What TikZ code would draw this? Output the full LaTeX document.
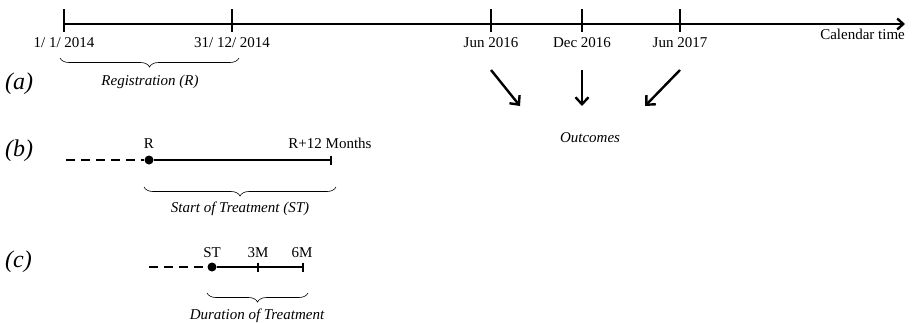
\documentclass[tikz,border=0pt]{standalone}
\usepackage{fontspec}
\setmainfont{Liberation Serif}
\usetikzlibrary{arrows.meta,decorations.pathreplacing,positioning}

\tikzset{
  axisline/.style  = {line width=2.4pt},
  tickmark/.style  = {line width=2.4pt},
  period/.style    = {line width=2.5pt},
  pastline/.style  = {line width=2.5pt, dash pattern=on 9pt off 6pt},
  datelabel/.style = {anchor=base, inner sep=0pt,
                      font=\fontsize{15}{17}\selectfont},
  itlabel/.style   = {datelabel, font=\fontsize{15}{17}\selectfont\itshape},
  panel/.style     = {anchor=base west, inner sep=0pt,
                      font=\fontsize{24}{27}\selectfont\itshape},
  curly/.style     = {decorate, decoration={brace, mirror, amplitude=9pt},
                      line width=0.6pt},
  outarrow/.style  = {line width=2.4pt, -{Straight Barb[length=7pt,width=13pt]}},
  startdot/.style  = {circle, fill, inner sep=0pt, minimum size=9pt}
}

\begin{document}
\begin{tikzpicture}[x=1pt, y=-1pt]
\useasboundingbox (0,0) rectangle (912,322);

% (a) calendar time
\coordinate (a0) at (64,24);
\coordinate (aEnd) at (905,24);
\draw[axisline, -{Straight Barb[length=6pt,width=11pt]}] (a0) -- (aEnd);
\foreach \x in {64,232,491,582,680}
  \draw[tickmark] (\x,9) -- (\x,32);

\node[datelabel] (d1) at (64,47) {1/ 1/ 2014};
\node[datelabel] (d2) at (232,47) {31/ 12/ 2014};
\node[datelabel] (d3) at (491,47) {Jun 2016};
\node[datelabel] (d4) at (582,47) {Dec 2016};
\node[datelabel] (d5) at (680,47) {Jun 2017};
\node[datelabel, anchor=base east] (cal) at (905,39) {Calendar time};

\draw[curly] (60,58) -- (239,58);
\node[itlabel] (reg) at (150,85) {Registration (R)};
\node[panel] (pa) at (5,89) {(a)};

\coordinate (o1s) at (491,70);
\coordinate (o1e) at (520,106);
\coordinate (o2s) at (582,70);
\coordinate (o2e) at (582,106);
\coordinate (o3s) at (680,70);
\coordinate (o3e) at (645,106);
\draw[outarrow] (o1s) -- (o1e);
\draw[outarrow] (o2s) -- (o2e);
\draw[outarrow] (o3s) -- (o3e);
\node[itlabel] (outc) at (590,142) {Outcomes};

% (b) start of treatment
\node[panel] (pb) at (5,156) {(b)};
\coordinate (bL) at (66,160);
\node[startdot] (R) at (149,160) {};
\coordinate (bE) at (331,160);
\draw[pastline] (bL) -- (R);
\draw[period] (R) -- (bE);
\draw[tickmark] ([yshift=4.5pt]bE) -- ([yshift=-4.5pt]bE);
\node[datelabel] (rlab) at (149,148) {R};
\node[datelabel] (r12) at (330,148) {R+12 Months};
\draw[curly] (144,187) -- (336,187);
\node[itlabel] (stlab) at (240,212) {Start of Treatment (ST)};

% (c) duration of treatment
\node[panel] (pc) at (5,267) {(c)};
\coordinate (cL) at (149,267);
\node[startdot] (ST) at (212,267) {};
\coordinate (c3) at (258,267);
\coordinate (cE) at (303,267);
\draw[pastline] (cL) -- (ST);
\draw[period] (ST) -- (cE);
\draw[tickmark] ([yshift=4.5pt]c3) -- ([yshift=-4.5pt]c3);
\draw[tickmark] ([yshift=4.5pt]cE) -- ([yshift=-4.5pt]cE);
\node[datelabel] (stt) at (212,257) {ST};
\node[datelabel] (m3) at (258,257) {3M};
\node[datelabel] (m6) at (302,257) {6M};
\draw[curly] (207,293) -- (308,293);
\node[itlabel] (dur) at (257,319) {Duration of Treatment};
\end{tikzpicture}
\end{document}
